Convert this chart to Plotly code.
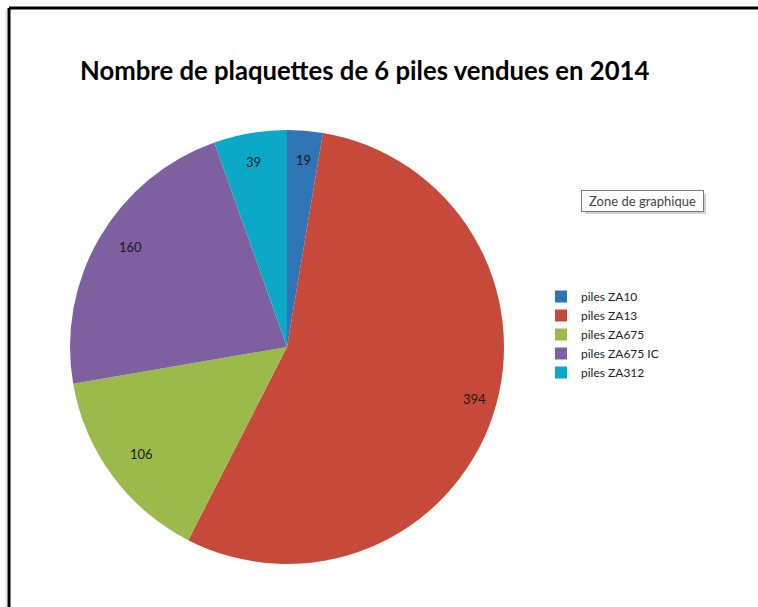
import math
import plotly.graph_objects as go

labels = ["piles ZA10", "piles ZA13", "piles ZA675", "piles ZA675 IC", "piles ZA312"]
values = [19, 394, 106, 160, 39]
colors = ["#2F75B5", "#C6493A", "#9BBA4A", "#7E60A0", "#0BA9C7"]
title_text = "Nombre de plaquettes de 6 piles vendues en 2014"

W, H = 758, 607


def px(x):
    return x / W


def py(y):
    return 1 - y / H


CX, CY, R = 287, 347, 217  # pixel geometry of pie (window coords)

fig = go.Figure(go.Pie(
    labels=labels, values=values, sort=False, direction="clockwise", rotation=0,
    marker=dict(colors=colors, line=dict(width=0)),
    textinfo="none", hoverinfo="skip",
    domain=dict(x=[px(CX - R), px(CX + R)], y=[py(CY + R), py(CY - R)]),
))

# data labels near the outer edge, from the cumulative values
total = sum(values)
cum = 0
anns = []
for v in values:
    mid = (cum + v / 2) / total * 2 * math.pi
    cum += v
    rr = 0.91 * R
    lx = CX + rr * math.sin(mid)
    ly = CY - rr * math.cos(mid)
    anns.append(dict(x=px(lx), y=py(ly), xref="paper", yref="paper", text=str(v),
                     showarrow=False, font=dict(family="Lato", size=13, color="#1a1a1a")))

anns.append(dict(x=px(364), y=py(70), xref="paper", yref="paper", text="<b>" + title_text + "</b>",
                 showarrow=False, font=dict(family="Lato", size=25.7, color="#000000"),
                 xanchor="center", yanchor="middle"))
anns.append(dict(x=px(642), y=py(201), xref="paper", yref="paper", text="Zone de graphique",
                 showarrow=False, font=dict(family="Lato", size=13, color="#444444"),
                 bgcolor="white", bordercolor="#7a7a7a", borderwidth=1, borderpad=2,
                 width=117, xanchor="center", yanchor="middle"))

shapes = [
    # tooltip shadow
    dict(type="rect", xref="paper", yref="paper", x0=px(585), x1=px(706), y0=py(214), y1=py(194),
         fillcolor="#d0d0d0", line=dict(width=0), layer="below"),
    # frame
    dict(type="line", xref="paper", yref="paper", x0=px(9), x1=1, y0=py(8), y1=py(8),
         line=dict(color="black", width=3)),
    dict(type="line", xref="paper", yref="paper", x0=px(9), x1=px(9), y0=0, y1=py(8),
         line=dict(color="black", width=3)),
    dict(type="line", xref="paper", yref="paper", x0=px(6), x1=px(6), y0=0, y1=py(10),
         line=dict(color="#d8d8d8", width=1)),
]

fig.update_layout(
    width=W, height=H, margin=dict(l=0, r=0, t=0, b=0),
    paper_bgcolor="white", plot_bgcolor="white",
    annotations=anns, shapes=shapes,
    legend=dict(x=px(541), y=py(282), xanchor="left", yanchor="top",
                font=dict(family="Lato", size=12, color="#222222"),
                itemclick=False, bgcolor="rgba(0,0,0,0)", tracegroupgap=0),
)

fig.write_html(
    "out.html",
    config={"displayModeBar": False},
    post_script="document.body.style.margin='0';document.body.style.overflow='hidden';",
)
